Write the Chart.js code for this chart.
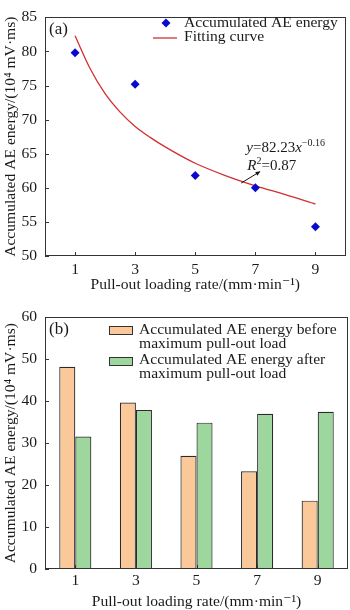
<!DOCTYPE html>
<html>
<head>
<meta charset="utf-8">
<script src="https://cdn.jsdelivr.net/npm/chart.js@4/dist/chart.umd.min.js"></script>
<style>
  body { margin: 0; background: #fff; }
  #wrapA { position: absolute; left: 0; top: 0; width: 350px; height: 300px; }
  #wrapB { position: absolute; left: 0; top: 300px; width: 350px; height: 310px; }
</style>
</head>
<body>
<div id="wrapA"><canvas id="chartA" width="350" height="300"></canvas></div>
<div id="wrapB"><canvas id="chartB" width="350" height="310"></canvas></div>
<script>
// data
const rates = [1, 3, 5, 7, 9];
const totalEnergy = [79.8, 75.2, 61.8, 60.0, 54.3];
const fitX = [1, 1.5, 2, 2.5, 3, 3.5, 4, 5, 6, 7, 8, 9];
const fitY = [82.3, 77.5, 73.8, 71.1, 69.0, 67.4, 66.0, 63.6, 61.8, 60.3, 59.0, 57.6];
const beforePeak = [48.2, 39.7, 27.0, 23.3, 16.3];
const afterPeak = [31.6, 37.9, 34.9, 37.0, 37.5];
const rateLabels = ['1', '3', '5', '7', '9'];

const SERIF = '"Liberation Serif", "DejaVu Serif", serif';
const INK = '#1a1a1a';
const FS = 15.6;
const yTitle = 'Accumulated AE energy/(10\u2074 mV\u00b7ms)';
const xTitle = 'Pull-out loading rate/(mm\u00b7min\u207b\u00b9)';

function font(size, style) {
  return (style ? style + ' ' : '') + size + 'px ' + SERIF;
}

// text made of runs: {t, it, sup}
function drawRuns(ctx, x, y, runs, size) {
  runs.forEach(r => {
    const s = r.sup ? Math.round(size * 0.68) : size;
    ctx.font = font(s, r.it ? 'italic' : '');
    ctx.fillText(r.t, x, r.sup ? y - size * 0.4 : y);
    x += ctx.measureText(r.t).width;
  });
}

// box round the plot and short ticks pointing inward
const framePlugin = {
  id: 'frame',
  afterDraw(chart, args, opts) {
    const ctx = chart.ctx;
    const a = chart.chartArea;
    ctx.save();
    ctx.strokeStyle = '#333';
    ctx.lineWidth = 1;
    ctx.strokeRect(Math.round(a.left) + 0.5, Math.round(a.top) + 0.5,
      Math.round(a.right - a.left) - 1, Math.round(a.bottom - a.top) - 1);
    const xs = chart.scales.x, ys = chart.scales.y;
    ctx.beginPath();
    xs.ticks.forEach((t, i) => {
      const px = Math.round(xs.getPixelForTick(i)) + 0.5;
      ctx.moveTo(px, a.bottom);
      ctx.lineTo(px, a.bottom - 4);
    });
    ys.ticks.forEach((t, i) => {
      const py = Math.round(ys.getPixelForTick(i)) + 0.5;
      ctx.moveTo(a.left, py);
      ctx.lineTo(a.left + 4, py);
    });
    ctx.stroke();
    ctx.fillStyle = INK;
    ctx.textBaseline = 'alphabetic';
    ctx.font = font(17);
    ctx.fillText(opts.panel, a.left + 4, a.top + 17);
    if (opts.extra) opts.extra(chart, ctx);
    ctx.restore();
  }
};

function axisTitle(text, pad) {
  return { display: true, text: text, color: INK, font: { family: SERIF, size: FS, lineHeight: 1 }, padding: pad };
}

// ---- (a) scatter + fitting curve ----
function extraA(chart, ctx) {
  const xs = chart.scales.x, ys = chart.scales.y;
  // legend
  ctx.fillStyle = '#0a0acc';
  ctx.beginPath();
  ctx.moveTo(166, 18.5); ctx.lineTo(170.5, 23); ctx.lineTo(166, 27.5); ctx.lineTo(161.5, 23);
  ctx.closePath(); ctx.fill();
  ctx.strokeStyle = '#d03030';
  ctx.lineWidth = 1.3;
  ctx.beginPath(); ctx.moveTo(153, 38); ctx.lineTo(177, 38); ctx.stroke();
  ctx.fillStyle = INK;
  ctx.font = font(FS);
  ctx.textBaseline = 'middle';
  ctx.fillText('Accumulated AE energy', 184, 23);
  ctx.fillText('Fitting curve', 184, 37);
  // equation
  ctx.textBaseline = 'alphabetic';
  const ex = xs.getPixelForValue(6.7), ey = ys.getPixelForValue(65.2);
  drawRuns(ctx, ex, ey, [{ t: 'y', it: true }, { t: '=82.23' }, { t: 'x', it: true }, { t: '\u22120.16', sup: true }], 15);
  drawRuns(ctx, ex + 1, ey + 18, [{ t: 'R', it: true }, { t: '2', sup: true }, { t: '=0.87' }], 15);
  // arrow from curve to the equation
  const x0 = xs.getPixelForValue(6.53), y0 = ys.getPixelForValue(60.7);
  const x1 = xs.getPixelForValue(7.16), y1 = ys.getPixelForValue(62.4);
  const ang = Math.atan2(y1 - y0, x1 - x0);
  ctx.strokeStyle = '#111';
  ctx.fillStyle = '#111';
  ctx.lineWidth = 1;
  ctx.beginPath(); ctx.moveTo(x0, y0); ctx.lineTo(x1, y1); ctx.stroke();
  ctx.beginPath();
  ctx.moveTo(x1, y1);
  ctx.lineTo(x1 - 5 * Math.cos(ang - 0.45), y1 - 5 * Math.sin(ang - 0.45));
  ctx.lineTo(x1 - 5 * Math.cos(ang + 0.45), y1 - 5 * Math.sin(ang + 0.45));
  ctx.closePath(); ctx.fill();
}

new Chart(document.getElementById('chartA'), {
  type: 'scatter',
  data: {
    datasets: [{
      label: 'Accumulated AE energy',
      data: rates.map((r, i) => ({ x: r, y: totalEnergy[i] })),
      pointStyle: 'rectRot',
      pointRadius: 4.5,
      backgroundColor: '#0a0acc',
      borderColor: '#0a0acc',
      borderWidth: 0,
      order: 1
    }, {
      type: 'line',
      label: 'Fitting curve',
      data: fitX.map((x, i) => ({ x: x, y: fitY[i] })),
      borderColor: '#d03030',
      borderWidth: 1.3,
      pointRadius: 0,
      cubicInterpolationMode: 'monotone',
      fill: false,
      order: 2
    }]
  },
  options: {
    responsive: false,
    animation: false,
    layout: { padding: { top: 5, right: 2, left: 0, bottom: 0 } },
    plugins: {
      legend: { display: false },
      tooltip: { enabled: false },
      frame: { panel: '(a)', extra: extraA }
    },
    scales: {
      x: {
        type: 'linear', min: 0, max: 10,
        afterBuildTicks: s => { s.ticks = rates.map(v => ({ value: v })); },
        afterFit: s => { s.height = 44; },
        grid: { display: false, drawTicks: false },
        border: { display: false },
        ticks: { padding: 5, color: INK, font: { family: SERIF, size: FS } },
        title: axisTitle(xTitle, { top: 0, bottom: 7 })
      },
      y: {
        min: 50, max: 85,
        ticks: { stepSize: 5, padding: 8, color: INK, font: { family: SERIF, size: FS } },
        afterFit: s => { s.width = 45; },
        grid: { display: false, drawTicks: false },
        border: { display: false },
        title: axisTitle(yTitle, { top: 3, bottom: 0 })
      }
    }
  },
  plugins: [framePlugin]
});

// ---- (b) grouped bars ----
const ORANGE = '#fbc89a';
const GREEN = '#9dd79d';

function extraB(chart, ctx) {
  ctx.lineWidth = 1;
  ctx.strokeStyle = '#333';
  ctx.fillStyle = ORANGE;
  ctx.fillRect(109, 26, 24, 8); ctx.strokeRect(109.5, 26.5, 23, 8);
  ctx.fillStyle = GREEN;
  ctx.fillRect(109, 57, 24, 8); ctx.strokeRect(109.5, 57.5, 23, 8);
  ctx.fillStyle = INK;
  ctx.font = font(FS);
  ctx.textBaseline = 'middle';
  ctx.fillText('Accumulated AE energy before', 139, 30);
  ctx.fillText('maximum pull-out load', 139, 44);
  ctx.fillText('Accumulated AE energy after', 139, 60);
  ctx.fillText('maximum pull-out load', 139, 74);
}

new Chart(document.getElementById('chartB'), {
  type: 'bar',
  data: {
    labels: rateLabels,
    datasets: [{
      label: 'Accumulated AE energy before maximum pull-out load',
      data: beforePeak,
      backgroundColor: ORANGE,
      borderColor: '#2a2a2a',
      borderWidth: 1.2
    }, {
      label: 'Accumulated AE energy after maximum pull-out load',
      data: afterPeak,
      backgroundColor: GREEN,
      borderColor: '#2a2a2a',
      borderWidth: 1.2
    }]
  },
  options: {
    responsive: false,
    animation: false,
    categoryPercentage: 0.53,
    barPercentage: 1.0,
    layout: { padding: { top: 17, right: 2, left: 0, bottom: 0 } },
    plugins: {
      legend: { display: false },
      tooltip: { enabled: false },
      frame: { panel: '(b)', extra: extraB }
    },
    scales: {
      x: {
        afterFit: s => { s.height = 41; },
        grid: { display: false, drawTicks: false },
        border: { display: false },
        ticks: { padding: 3, color: INK, font: { family: SERIF, size: FS } },
        title: axisTitle(xTitle, { top: 0, bottom: 0 })
      },
      y: {
        min: 0, max: 60,
        ticks: { stepSize: 10, padding: 8, color: INK, font: { family: SERIF, size: FS } },
        afterFit: s => { s.width = 45; },
        grid: { display: false, drawTicks: false },
        border: { display: false },
        title: axisTitle(yTitle, { top: 3, bottom: 0 })
      }
    }
  },
  plugins: [framePlugin]
});
</script>
</body>
</html>
